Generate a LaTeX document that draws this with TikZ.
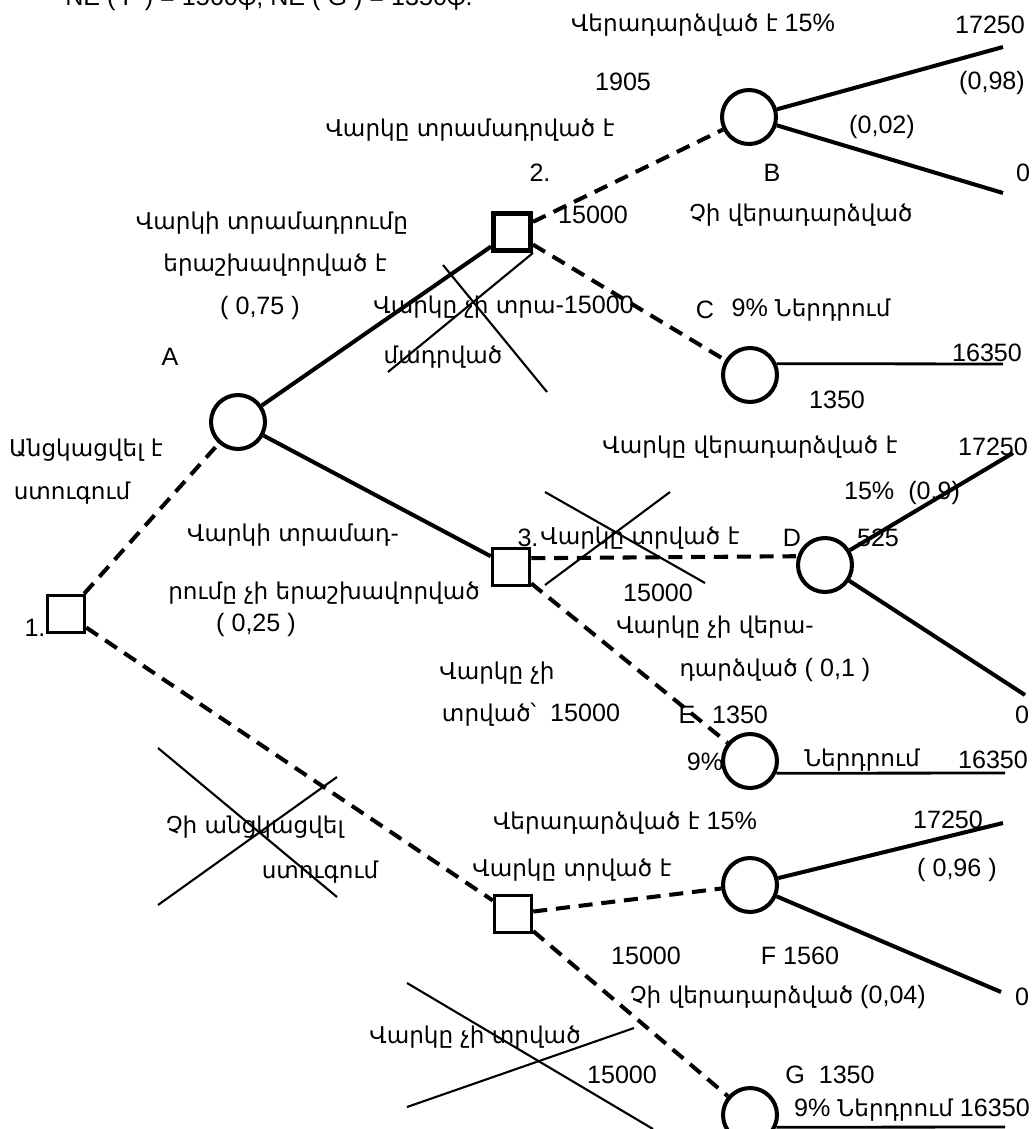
\documentclass[tikz,border=0pt]{standalone}
\usepackage{fontspec}
\setmainfont{Liberation Sans}
\newfontfamily\arm{DejaVu Sans}[Scale=0.92]
\tikzset{
  chance/.style={circle, draw, line width=2.3pt, minimum size=1.08cm, inner sep=0pt},
  decision/.style={rectangle, draw, line width=2pt, minimum size=0.74cm, inner sep=0pt},
  branch/.style={line width=2.3pt},
  chosen/.style={line width=2.3pt, dash pattern=on 8pt off 5pt},
  crossout/.style={line width=1.2pt},
  lbl/.style={inner sep=0pt, font=\fontsize{14.3}{17}\selectfont},
}
\begin{document}
\begin{tikzpicture}[x=0.02cm, y=-0.02cm]
	\useasboundingbox (0,0) rectangle (1033,1129);
	
	% decision and chance nodes
	\node[decision] (sq1) at (66,614) {};
	\node[decision, line width=2.8pt] (sq2) at (512,232) {};
	\node[decision] (sq3) at (511,567) {};
	\node[decision] (sq4) at (513,914) {};
	\node[chance] (A) at (238,422) {};
	\node[chance] (B) at (749,117) {};
	\node[chance] (C) at (750,375) {};
	\node[chance] (D) at (825,565) {};
	\node[chance] (E) at (750,761) {};
	\node[chance] (F) at (750,885) {};
	\node[chance] (G) at (750,1115) {};
	
	% branch ends
	\coordinate (b1) at (1003,47);
	\coordinate (b2) at (1003,193);
	\coordinate (c1) at (1003,364);
	\coordinate (d1) at (1013,453);
	\coordinate (d2) at (1025,695);
	\coordinate (e1) at (1005,773);
	\coordinate (f1) at (1003,823);
	\coordinate (f2) at (1001,992);
	\coordinate (g1) at (1005,1127);
	\coordinate (n2) at (388,372);
	
	% branches
	\draw[chosen] (sq1) -- (A);
	\draw[chosen] (sq1) -- (sq4);
	\draw[branch] (A) -- (sq2);
	\draw[branch] (A) -- (sq3);
	\draw[chosen] (sq2) -- (B);
	\draw[chosen] (sq2) -- (C);
	\draw[crossout] (sq2.south east) -- (n2);
	\draw[chosen] ([yshift=5pt]sq3.east) -- ([yshift=5pt]D.west);
	\draw[chosen] (sq3) -- (E);
	\draw[chosen] (sq4) -- (F);
	\draw[chosen] (sq4) -- (G);
	\draw[branch] (B) -- (b1);
	\draw[branch] (B) -- (b2);
	\draw[line width=1.6pt] (C.23) -- (c1);
	\draw[branch] (D) -- (d1);
	\draw[branch] (D) -- (d2);
	\draw[line width=1.6pt] (E.-25) -- (e1);
	\draw[branch] (F) -- (f1);
	\draw[branch] (F) -- (f2);
	\draw[line width=1.6pt] (G.-25) -- (g1);
	
	% crossed out
	\draw[crossout] (443,265) -- (547,392);
	\draw[crossout] (545,492) -- (705,583);
	\draw[crossout] (670,492) -- (545,585);
	\draw[crossout] (158,748) -- (337,897);
	\draw[crossout] (158,905) -- (337,777);
	\draw[crossout] (407,983) -- (653,1129);
	\draw[crossout] (407,1107) -- (634,1028);
	
	% labels
	\node[lbl, anchor=base west] (top) at (65,6) {NE ( F ) = 1560{\arm ֆ}; NE ( G ) = 1350{\arm ֆ}.};
	\node[lbl] (l1) at (703,25) {{\arm Վերադարձված է} 15\%};
	\node[lbl] (l2) at (990,25) {17250};
	\node[lbl] (l3) at (623,82) {1905};
	\node[lbl] (l4) at (992,83) {(0,98)};
	\node[lbl] (l5) at (470,130) {\arm Վարկը տրամադրված է};
	\node[lbl] (l6) at (882,127) {(0,02)};
	\node[lbl] (l7) at (540,173) {2.};
	\node[lbl] (l8) at (772,173) {B};
	\node[lbl] (l9) at (1023,173) {0};
	\node[lbl] (l10) at (272,223) {\arm Վարկի տրամադրումը};
	\node[lbl] (l11) at (593,215) {15000};
	\node[lbl] (l12) at (801,215) {\arm Չի վերադարձված};
	\node[lbl] (l13) at (275,265) {\arm երաշխավորված է};
	\node[lbl] (l14) at (260,308) {( 0,75 )};
	\node[lbl, anchor=west] (l15) at (373,307) {{\arm Վարկը չի տրա}-15000};
	\node[lbl] (l16) at (705,310) {C};
	\node[lbl] (l17) at (811,310) {9\% {\arm Ներդրում}};
	\node[lbl] (l18) at (170,357) {A};
	\node[lbl] (l19) at (443,357) {\arm մադրված};
	\node[lbl] (l20) at (987,353) {16350};
	\node[lbl] (l21) at (837,400) {1350};
	\node[lbl] (l22) at (86,450) {\arm Անցկացվել է};
	\node[lbl] (l23) at (750,447) {\arm Վարկը վերադարձված է};
	\node[lbl] (l24) at (993,447) {17250};
	\node[lbl] (l25) at (72,493) {\arm ստուգում};
	\node[lbl] (l26) at (902,493) {15\%~~(0,9)};
	\node[lbl] (l27) at (293,535) {\arm Վարկի տրամադ-};
	\node[lbl] (l28) at (528,538) {3.};
	\node[lbl, anchor=west] (l29) at (540,538) {\arm Վարկը տրված է};
	\node[lbl] (l30) at (792,538) {D};
	\node[lbl] (l31) at (878,538) {525};
	\node[lbl] (l32) at (324,593) {\arm րումը չի երաշխավորված};
	\node[lbl] (l33) at (658,593) {15000};
	\node[lbl] (l34) at (35,628) {1.};
	\node[lbl] (l35) at (256,625) {( 0,25 )};
	\node[lbl] (l36) at (715,627) {\arm Վարկը չի վերա-};
	\node[lbl] (l37) at (497,673) {\arm Վարկը չի};
	\node[lbl] (l38) at (775,670) {{\arm դարձված} ( 0,1 )};
	\node[lbl] (l39) at (531,715) {{\arm տրված՝}~~15000};
	\node[lbl] (l40) at (687,715) {E};
	\node[lbl] (l41) at (740,715) {1350};
	\node[lbl] (l42) at (1022,715) {0};
	\node[lbl] (l43) at (705,762) {9\%};
	\node[lbl] (l44) at (862,760) {\arm Ներդրում};
	\node[lbl] (l45) at (993,760) {16350};
	\node[lbl] (l46) at (625,823) {{\arm Վերադարձված է} 15\%};
	\node[lbl] (l47) at (948,820) {17250};
	\node[lbl] (l48) at (255,827) {\arm Չի անցկացվել};
	\node[lbl] (l49) at (572,870) {\arm Վարկը տրված է};
	\node[lbl] (l50) at (957,870) {( 0,96 )};
	\node[lbl] (l51) at (320,872) {\arm ստուգում};
	\node[lbl] (l52) at (646,956) {15000};
	\node[lbl] (l53) at (800,956) {F 1560};
	\node[lbl] (l54) at (778,997) {{\arm Չի վերադարձված} (0,04)};
	\node[lbl] (l55) at (1022,997) {0};
	\node[lbl] (l56) at (475,1037) {\arm Վարկը չի տրված};
	\node[lbl] (l57) at (622,1075) {15000};
	\node[lbl] (l58) at (830,1075) {G~~1350};
	\node[lbl] (l59) at (912,1110) {9\% {\arm Ներդրում} 16350};
\end{tikzpicture}
\end{document}
